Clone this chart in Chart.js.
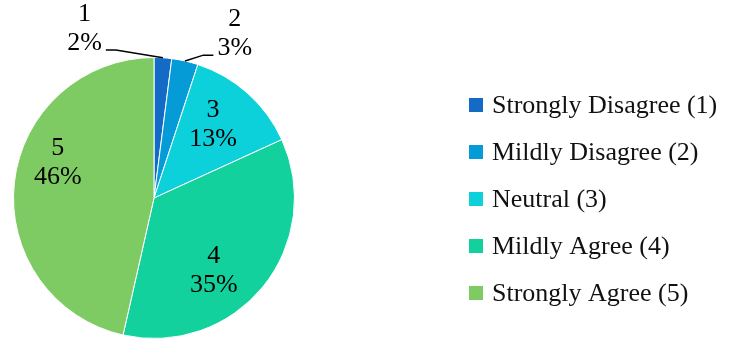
<!DOCTYPE html>
<html lang="en">
<head>
<meta charset="UTF-8">
<title>Survey Responses Pie</title>
<script src="https://cdn.jsdelivr.net/npm/chart.js"></script>
<style>
  html, body { margin: 0; padding: 0; background: #fff; }
  #wrap { position: relative; width: 733px; height: 341px; }
</style>
</head>
<body>
<div id="wrap"><canvas id="pie"></canvas></div>
<script>
const categories = ['Strongly Disagree (1)', 'Mildly Disagree (2)', 'Neutral (3)', 'Mildly Agree (4)', 'Strongly Agree (5)'];
const scaleValues = ['1', '2', '3', '4', '5'];
const percents = [2, 3, 13, 35, 46];
const sliceColors = ['#136BC5', '#049BD6', '#0CD0DA', '#12D19C', '#7ECB64'];

const FONT = '"Liberation Serif", serif';

// label spot per slice: fraction of radius + nudge in degrees; outside ones get a leader line
const labelPlacement = [
    { r: 1.30, turn: -26, side: 'left' },
    { r: 1.30, turn: 13.5, side: 'right' },
    { r: 0.67, turn: -3 },
    { r: 0.67, turn: 11.5 },
    { r: 0.73, turn: 14 }
];

const sliceLabels = {
    id: 'sliceLabels',
    afterDatasetsDraw(chart) {
        const ctx = chart.ctx;
        const meta = chart.getDatasetMeta(0);
        ctx.save();
        ctx.font = `26px ${FONT}`;
        ctx.fillStyle = '#000';
        ctx.strokeStyle = '#000';
        ctx.lineWidth = 1.5;
        ctx.textAlign = 'center';
        ctx.textBaseline = 'middle';
        meta.data.forEach((arc, i) => {
            const { x, y, startAngle, endAngle, outerRadius } =
                arc.getProps(['x', 'y', 'startAngle', 'endAngle', 'outerRadius'], true);
            const mid = (startAngle + endAngle) / 2;
            const p = labelPlacement[i];
            const a = mid + p.turn * Math.PI / 180;
            const cx = x + Math.cos(a) * outerRadius * p.r;
            const cy = y + Math.sin(a) * outerRadius * p.r;
            const pct = percents[i] + '%';
            ctx.fillText(scaleValues[i], cx, cy - 14.5);
            ctx.fillText(pct, cx, cy + 14.5);
            if (p.side) {
                const w = ctx.measureText(pct).width;
                const dir = p.side === 'left' ? 1 : -1;
                const endX = cx + dir * (w / 2 + 4);
                const endY = cy + 21;
                const ex = x + Math.cos(mid) * outerRadius;
                const ey = y + Math.sin(mid) * outerRadius;
                ctx.beginPath();
                ctx.moveTo(endX, endY);
                ctx.lineTo(endX + dir * 10, endY);
                ctx.lineTo(ex, ey);
                ctx.stroke();
            }
        });
        ctx.restore();
    }
};

const sideLegend = {
    id: 'sideLegend',
    afterDraw(chart) {
        const ctx = chart.ctx;
        const colors = chart.data.datasets[0].backgroundColor;
        const left = 469, top = 105, step = 47, box = 14;
        ctx.save();
        ctx.font = `26px ${FONT}`;
        ctx.textAlign = 'left';
        ctx.textBaseline = 'middle';
        chart.data.labels.forEach((lab, i) => {
            const ly = top + i * step;
            ctx.fillStyle = colors[i];
            ctx.fillRect(left, ly - box / 2, box, box);
            ctx.fillStyle = '#111';
            ctx.fillText(lab, left + 23, ly + 1);
        });
        ctx.restore();
    }
};

new Chart(document.getElementById('pie'), {
    type: 'pie',
    data: {
        labels: categories,
        datasets: [{
            data: percents,
            backgroundColor: sliceColors,
            borderColor: '#ffffff',
            borderWidth: 1
        }]
    },
    options: {
        responsive: true,
        maintainAspectRatio: false,
        animation: false,
        layout: { padding: { left: 13, top: 57, right: 438, bottom: 2 } },
        plugins: {
            legend: { display: false },
            tooltip: { enabled: false },
            title: { display: false }
        }
    },
    plugins: [sliceLabels, sideLegend]
});
</script>
</body>
</html>
